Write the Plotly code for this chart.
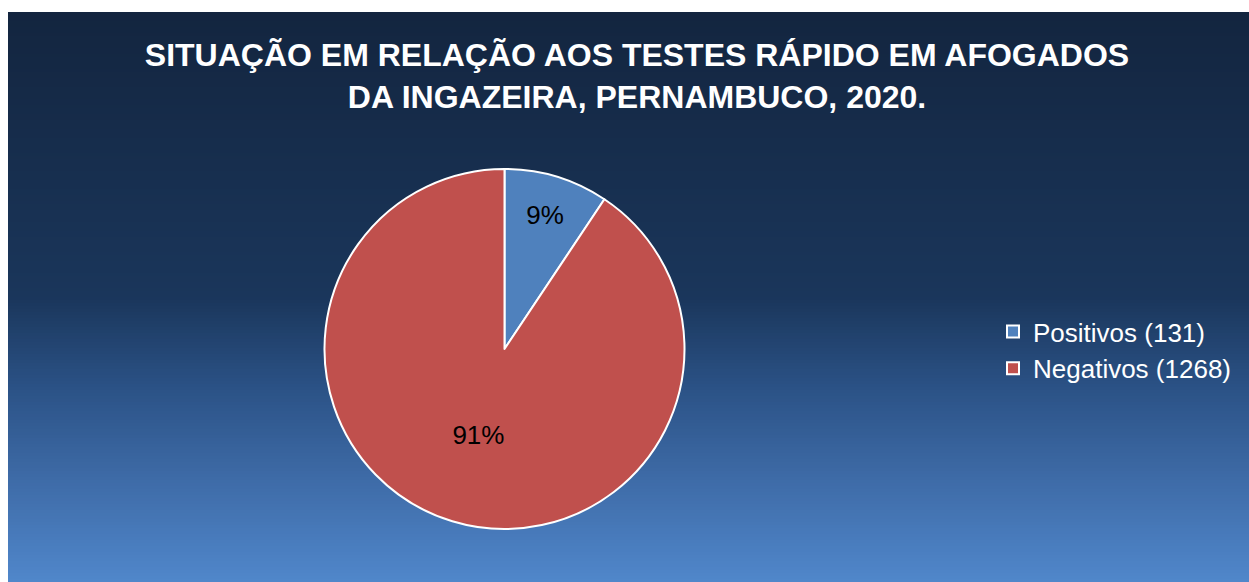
import plotly.graph_objects as go

labels = ["Positivos (131)", "Negativos (1268)"]
values = [131, 1268]
slice_colors = ["#4F81BD", "#C0504D"]
title_lines = ["SITUAÇÃO EM RELAÇÃO AOS TESTES RÁPIDO EM AFOGADOS", "DA INGAZEIRA, PERNAMBUCO, 2020."]

# background gradient stops (fraction from top, colour)
grad_stops = [(0.0, (0x13, 0x25, 0x3f)), (0.5, (0x1a, 0x36, 0x5b)),
              (0.66, (0x2b, 0x52, 0x86)), (0.82, (0x3e, 0x6b, 0xa7)),
              (1.0, (0x50, 0x87, 0xcb))]

W, H = 1249, 582
left_px, top_px = 8, 12

def grad_color(t):
    for (t0, c0), (t1, c1) in zip(grad_stops[:-1], grad_stops[1:]):
        if t0 <= t <= t1:
            f = (t - t0) / (t1 - t0) if t1 > t0 else 0
            return "rgb(%d,%d,%d)" % tuple(round(a + (b - a) * f) for a, b in zip(c0, c1))
    return "rgb(%d,%d,%d)" % grad_stops[-1][1]

shapes = []
n = 190
top_frac = 1 - top_px / H
for i in range(n):
    t0 = i / n
    t1 = (i + 1) / n
    y_hi = top_frac * (1 - t0)
    y_lo = top_frac * (1 - t1)
    shapes.append(dict(type="rect", xref="paper", yref="paper",
                       x0=left_px / W, x1=1, y0=y_lo - 0.001 if i < n - 1 else y_lo, y1=y_hi,
                       fillcolor=grad_color((t0 + t1) / 2), line=dict(width=0), layer="below"))

fig = go.Figure(go.Pie(
    labels=labels, values=values, sort=False, direction="clockwise", rotation=0,
    marker=dict(colors=slice_colors, line=dict(color="white", width=2)),
    texttemplate="%{percent:.0%}", textposition="inside", insidetextorientation="horizontal",
    textfont=dict(family="Liberation Sans, Arial", size=26, color="black"),
    domain=dict(x=[324 / W, 685 / W], y=[(H - 529) / H, (H - 169) / H]),
    hoverinfo="label+value+percent",
))

fig.update_layout(
    width=W, height=H, margin=dict(l=0, r=0, t=0, b=0),
    paper_bgcolor="white",
    shapes=shapes,
    title=dict(text="<b>" + "<br>".join(title_lines) + "</b>", x=637 / W, xanchor="center",
               xref="paper", yref="container", y=1 - 66 / H, yanchor="middle",
               font=dict(family="Liberation Sans, Arial", size=32, color="white")),
    legend=dict(x=993 / W, xanchor="left", y=1 - 350 / H, yanchor="middle",
                font=dict(family="Liberation Sans, Arial", size=26, color="white"),
                bgcolor="rgba(0,0,0,0)", itemwidth=30),
    showlegend=True,
)

fig.write_html("out.html")
